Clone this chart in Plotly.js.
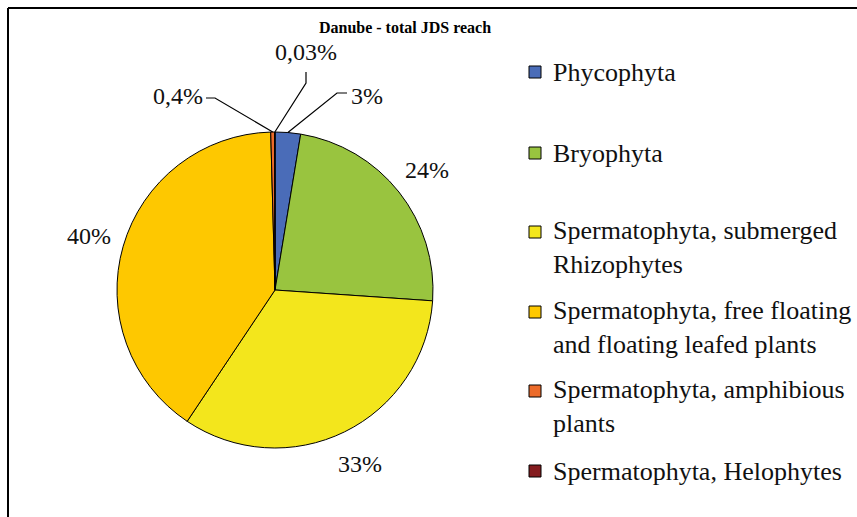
<!DOCTYPE html>
<html>
<head>
<meta charset="utf-8">
<script src="https://cdn.plot.ly/plotly-3.0.1.min.js"></script>
<style>
  html, body { margin: 0; padding: 0; background: #ffffff; }
  #chart { width: 857px; height: 517px; }
</style>
</head>
<body>
<div id="chart"></div>
<script>
// ---- data ----
const categories = [
  "Phycophyta",
  "Bryophyta",
  "Spermatophyta, submerged<br>Rhizophytes",
  "Spermatophyta, free floating<br>and floating leafed plants",
  "Spermatophyta, amphibious<br>plants",
  "Spermatophyta, Helophytes"
];
const shares = [2.6, 23.5, 33.3, 40.2, 0.4, 0.03];
const shareLabels = ["3%", "24%", "33%", "40%", "0,4%", "0,03%"];
const sliceColors = ["#4a6cb8", "#99c43f", "#f3e61c", "#fec800", "#ec6b2a", "#841c1f"];

const W = 857, H = 517;
const SERIF = "Liberation Serif, Times New Roman, serif";

// pie geometry (domain in paper = container since margins are 0)
const dom = { x: [117 / W, 433 / W], y: [69 / H, 385 / H] };
const cxPx = (dom.x[0] + dom.x[1]) / 2 * W;
const cyPx = (1 - (dom.y[0] + dom.y[1]) / 2) * H;
const rPx = Math.min((dom.x[1] - dom.x[0]) * W, (dom.y[1] - dom.y[0]) * H) / 2;

// label placement styles
const labelGap = 36;            // distance of plain labels outside the rim (px)
const calloutStyle = {          // bent leader lines for the thin slices (px)
  0: { tx: 349, ty: 96, xanchor: "left", ex: 337, ey: 93, hx: 347, hy: 93 },
  4: { tx: 205, ty: 96, xanchor: "right", ex: 215, ey: 98, hx: 206, hy: 98 },
  5: { tx: 306, ty: 52, xanchor: "center", ex: 306, ey: 83, hx: 306, hy: 72 }
};
// legend layout (px)
const legendSymbolX = 535, legendTextX = 551;
const legendRowY = [72, 153, 247.5, 327.5, 406.5, 471];   // centre of each entry's text block
const legendSymbolY = [72, 153, 232, 312, 391, 471];      // symbol beside first line

const total = shares.reduce(function (a, b) { return a + b; }, 0);
const annotations = [];
const shapes = [];
const labelFont = { family: SERIF, size: 24, color: "#111111" };
const toX = function (px) { return px / W; };
const toY = function (py) { return 1 - py / H; };

let cum = 0;
shares.forEach(function (v, i) {
  const mid = (cum + v / 2) / total;
  cum += v;
  const th = mid * 2 * Math.PI;
  const s = calloutStyle[i];
  if (s) {
    const ax = cxPx + rPx * Math.sin(th);
    const ay = cyPx - rPx * Math.cos(th);
    annotations.push({
      xref: "paper", yref: "paper", x: toX(s.tx), y: toY(s.ty),
      xanchor: s.xanchor, yanchor: "middle", showarrow: false,
      text: shareLabels[i], font: labelFont
    });
    shapes.push({
      type: "path", xref: "paper", yref: "paper",
      path: "M" + toX(s.hx) + "," + toY(s.hy) + " L" + toX(s.ex) + "," + toY(s.ey) + " L" + toX(ax) + "," + toY(ay),
      line: { color: "#000000", width: 1.2 }
    });
  } else {
    const rr = rPx + labelGap;
    annotations.push({
      xref: "paper", yref: "paper",
      x: toX(cxPx + rr * Math.sin(th)), y: toY(cyPx - rr * Math.cos(th)),
      xanchor: "center", yanchor: "middle", showarrow: false,
      text: shareLabels[i], font: labelFont
    });
  }
});

// legend: colour squares + category names
categories.forEach(function (c, i) {
  shapes.push({
    type: "rect", xref: "paper", yref: "paper",
    x0: toX(legendSymbolX - 6), x1: toX(legendSymbolX + 6),
    y0: toY(legendSymbolY[i] + 6), y1: toY(legendSymbolY[i] - 6),
    fillcolor: sliceColors[i], line: { color: "#000000", width: 1 }
  });
  annotations.push({
    xref: "paper", yref: "paper", x: toX(legendTextX), y: toY(legendRowY[i]),
    xanchor: "left", yanchor: "middle", align: "left", showarrow: false,
    text: c, font: { family: SERIF, size: 26, color: "#111111" }
  });
});

// chart frame
shapes.push({ type: "line", xref: "paper", yref: "paper", x0: toX(8), x1: 1.01, y0: toY(8), y1: toY(8), line: { color: "#000000", width: 2 } });
shapes.push({ type: "line", xref: "paper", yref: "paper", x0: toX(8), x1: toX(8), y0: toY(8), y1: -0.01, line: { color: "#000000", width: 2 } });

const trace = {
  type: "pie",
  labels: categories,
  values: shares,
  textinfo: "none",
  sort: false,
  direction: "clockwise",
  rotation: 0,
  hoverinfo: "skip",
  showlegend: false,
  marker: { colors: sliceColors, line: { color: "#000000", width: 1 } },
  domain: dom
};

const layout = {
  width: W,
  height: H,
  margin: { l: 0, r: 0, t: 0, b: 0, autoexpand: false },
  paper_bgcolor: "#ffffff",
  plot_bgcolor: "#ffffff",
  showlegend: false,
  title: {
    text: "<b>Danube - total JDS reach</b>",
    font: { family: SERIF, size: 16, color: "#000000" },
    x: toX(405), xref: "container", xanchor: "center",
    y: toY(27), yref: "container", yanchor: "middle"
  },
  annotations: annotations,
  shapes: shapes
};

Plotly.newPlot("chart", [trace], layout, { displayModeBar: false, staticPlot: true });
</script>
</body>
</html>
